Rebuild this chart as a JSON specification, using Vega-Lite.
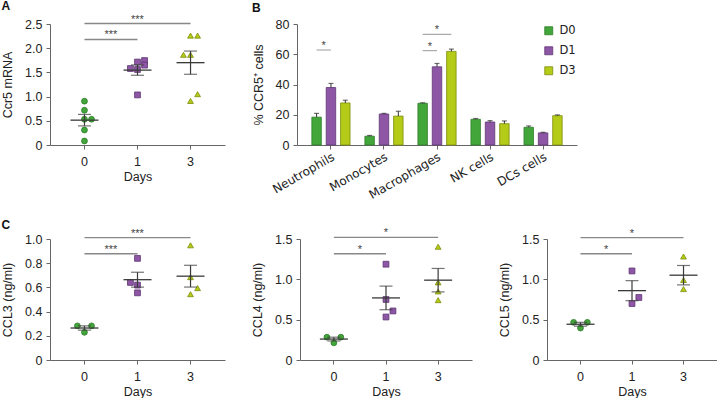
{
"$schema":"https://vega.github.io/schema/vega-lite/v6.json",
"padding":{"left":1,"top":-1,"right":0,"bottom":0},
"config":{
 "view":{"stroke":null},
 "font":"Liberation Sans",
 "axis":{"domainColor":"#666","tickColor":"#666","grid":false,"labelFont":"Liberation Sans","labelFontSize":12.5,"labelColor":"#222","titleFont":"Liberation Sans","titleFontSize":12.5,"titleFontWeight":"normal","titleColor":"#222","tickSize":4,"labelPadding":4,"labelOverlap":false},
 "axisX":{"labelAngle":0,"titlePadding":2.5,"labelPadding":6.5},
 "axisY":{"titlePadding":10},
 "title":{"anchor":"start","frame":"bounds","fontSize":12,"fontWeight":"bold","font":"Liberation Sans","color":"#111"}
},
"datasets":{
 "ptsA":[{"day":"0","col":"C","value":0.905},{"day":"0","col":"C","value":0.718},{"day":"0","col":"C","value":0.532},{"day":"0","col":"R","value":0.532},{"day":"0","col":"C","value":0.31},{"day":"0","col":"C","value":0.083},
  {"day":"1","col":"L","value":1.58},{"day":"1","col":"C","value":1.714},{"day":"1","col":"C","value":1.56},{"day":"1","col":"R","value":1.745},{"day":"1","col":"R","value":1.65},{"day":"1","col":"C","value":1.035},
  {"day":"3","col":"L","value":1.863},{"day":"3","col":"C","value":1.863},{"day":"3","col":"C","value":2.26},{"day":"3","col":"R","value":2.26},{"day":"3","col":"C","value":0.91},{"day":"3","col":"R","value":1.05}],
 "sigA":[{"from":"0","to":"1","y":2.18,"label":"***"},{"from":"0","to":"3","y":2.51,"label":"***"}],
 "ptsC3":[{"day":"0","col":"L","value":0.282},{"day":"0","col":"R","value":0.282},{"day":"0","col":"C","value":0.229},
  {"day":"1","col":"C","value":0.84},{"day":"1","col":"L","value":0.641},{"day":"1","col":"C","value":0.619},{"day":"1","col":"C","value":0.555},
  {"day":"3","col":"C","value":0.948},{"day":"3","col":"C","value":0.685},{"day":"3","col":"R","value":0.594},{"day":"3","col":"C","value":0.544}],
 "sigC3":[{"from":"0","to":"1","y":0.878,"label":"***"},{"from":"0","to":"3","y":1.011,"label":"***"}],
 "ptsC4":[{"day":"0","col":"L","value":0.283},{"day":"0","col":"R","value":0.283},{"day":"0","col":"C","value":0.2125},
  {"day":"1","col":"C","value":1.1875},{"day":"1","col":"C","value":0.75},{"day":"1","col":"R","value":0.608},{"day":"1","col":"C","value":0.533},
  {"day":"3","col":"C","value":1.404},{"day":"3","col":"C","value":0.9625},{"day":"3","col":"C","value":0.85},{"day":"3","col":"C","value":0.742}],
 "sigC4":[{"from":"0","to":"1","y":1.317,"label":"*"},{"from":"0","to":"3","y":1.52,"label":"*"}],
 "ptsC5":[{"day":"0","col":"L","value":0.467},{"day":"0","col":"R","value":0.467},{"day":"0","col":"C","value":0.396},
  {"day":"1","col":"C","value":1.104},{"day":"1","col":"R","value":0.775},{"day":"1","col":"C","value":0.7},
  {"day":"3","col":"C","value":1.283},{"day":"3","col":"C","value":0.992},{"day":"3","col":"C","value":0.879}],
 "sigC5":[{"from":"0","to":"1","y":1.317,"label":"*"},{"from":"0","to":"3","y":1.517,"label":"*"}],
 "barsB":[
  {"cell":"Neutrophils","group":"D0","value":18.4,"upper":20.9},{"cell":"Neutrophils","group":"D1","value":38.0,"upper":40.7},{"cell":"Neutrophils","group":"D3","value":27.8,"upper":29.6},
  {"cell":"Monocytes","group":"D0","value":5.8,"upper":6.3},{"cell":"Monocytes","group":"D1","value":20.5,"upper":20.9},{"cell":"Monocytes","group":"D3","value":19.1,"upper":22.3},
  {"cell":"Macrophages","group":"D0","value":27.6,"upper":27.9},{"cell":"Macrophages","group":"D1","value":51.7,"upper":53.9},{"cell":"Macrophages","group":"D3","value":61.9,"upper":63.4},
  {"cell":"NK cells","group":"D0","value":17.0,"upper":17.5},{"cell":"NK cells","group":"D1","value":15.2,"upper":16.1},{"cell":"NK cells","group":"D3","value":14.1,"upper":15.9},
  {"cell":"DCs cells","group":"D0","value":11.7,"upper":12.6},{"cell":"DCs cells","group":"D1","value":8.0,"upper":8.4},{"cell":"DCs cells","group":"D3","value":19.4,"upper":19.9}],
 "sigB":[{"cell":"Neutrophils","span":"D0-D1","y":62.8,"label":"*"},{"cell":"Macrophages","span":"D0-D1","y":62.4,"label":"*"},{"cell":"Macrophages","span":"D0-D3","y":73.2,"label":"*"}]
},
"spacing":215,
"bounds":"flush",
"resolve":{"scale":{"fill":"independent","stroke":"independent","shape":"independent","xOffset":"independent"},"legend":{"fill":"independent","stroke":"independent","shape":"independent"}},
"vconcat":[
 {"spacing":72,"bounds":"flush",
  "resolve":{"scale":{"fill":"independent","stroke":"independent","shape":"independent","xOffset":"independent"},"legend":{"fill":"independent","stroke":"independent","shape":"independent"}},
  "hconcat":[
  {"width":175,"height":121,"title":{"text":"A","offset":1},
   "layer":[
    {"data":{"name":"sigA"},"mark":{"type":"rule","color":"#888","strokeWidth":1.3},
     "encoding":{"x":{"field":"from","type":"ordinal","title":"Days","scale":{"type":"band","domain":["0","1","3"],"paddingInner":0.6,"paddingOuter":0.45}},"x2":{"field":"to"},
      "y":{"field":"y","type":"quantitative","title":"Ccr5 mRNA","scale":{"domain":[0,2.5],"nice":false},"axis":{"values":[0,0.5,1,1.5,2,2.5],"format":".1f","labelExpr":"datum.value === 0 ? '0' : datum.label"}}}},
    {"data":{"name":"sigA"},"transform":[{"filter":"datum.to === '1'"}],"mark":{"type":"text","dx":26.5,"dy":-1,"baseline":"alphabetic","fontSize":11,"color":"#444"},
     "encoding":{"x":{"field":"from","type":"ordinal","title":"Days"},"y":{"field":"y","type":"quantitative","title":"Ccr5 mRNA","axis":{"values":[0,0.5,1,1.5,2,2.5],"format":".1f","labelExpr":"datum.value === 0 ? '0' : datum.label"}},"text":{"field":"label"}}},
    {"data":{"name":"sigA"},"transform":[{"filter":"datum.to === '3'"}],"mark":{"type":"text","dx":53,"dy":-1,"baseline":"alphabetic","fontSize":11,"color":"#444"},
     "encoding":{"x":{"field":"from","type":"ordinal","title":"Days"},"y":{"field":"y","type":"quantitative","title":"Ccr5 mRNA","axis":{"values":[0,0.5,1,1.5,2,2.5],"format":".1f","labelExpr":"datum.value === 0 ? '0' : datum.label"}},"text":{"field":"label"}}},
    {"data":{"name":"ptsA"},"mark":{"type":"point","filled":true,"opacity":1,"strokeWidth":0.8,"size":34},
     "encoding":{
      "x":{"field":"day","type":"ordinal","title":"Days","scale":{"type":"band","domain":["0","1","3"],"paddingInner":0.6,"paddingOuter":0.45}},
      "xOffset":{"field":"col","type":"nominal","scale":{"type":"band","domain":["L","C","R"],"paddingInner":0,"paddingOuter":0,"range":[0,21.2]}},
      "y":{"field":"value","type":"quantitative","title":"Ccr5 mRNA","scale":{"domain":[0,2.5],"nice":false},"axis":{"values":[0,0.5,1,1.5,2,2.5],"format":".1f","labelExpr":"datum.value === 0 ? '0' : datum.label"}},
      "shape":{"field":"day","type":"nominal","scale":{"domain":["0","1","3"],"range":["circle","square","triangle-up"]},"legend":null},
      "fill":{"field":"day","type":"nominal","scale":{"domain":["0","1","3"],"range":["#43a63b","#8d57a5","#b4cb17"]},"legend":null},
      "stroke":{"field":"day","type":"nominal","scale":{"domain":["0","1","3"],"range":["#2d7b28","#5f3573","#7d8d0c"]},"legend":null}}},
    {"data":{"name":"ptsA"},"mark":{"type":"tick","size":28,"thickness":1.3,"color":"#3a3a3a"},
     "encoding":{"x":{"field":"day","type":"ordinal","title":"Days"},"y":{"aggregate":"mean","field":"value","type":"quantitative","title":"Ccr5 mRNA","axis":{"values":[0,0.5,1,1.5,2,2.5],"format":".1f","labelExpr":"datum.value === 0 ? '0' : datum.label"}}}},
    {"data":{"name":"ptsA"},"mark":{"type":"errorbar","extent":"stderr","color":"#3a3a3a","thickness":1.2,"ticks":{"size":13,"thickness":1.2,"color":"#3a3a3a"}},
     "encoding":{"x":{"field":"day","type":"ordinal","title":"Days"},"y":{"field":"value","type":"quantitative","title":"Ccr5 mRNA","axis":{"values":[0,0.5,1,1.5,2,2.5],"format":".1f","labelExpr":"datum.value === 0 ? '0' : datum.label"}}}}
   ]},
  {"width":280,"height":121,"title":{"text":"B","offset":3},
   "layer":[
    {"data":{"name":"barsB"},"mark":{"type":"bar","strokeWidth":0.8},
     "encoding":{
      "x":{"field":"cell","type":"nominal","title":null,"scale":{"type":"band","domain":["Neutrophils","Monocytes","Macrophages","NK cells","DCs cells"],"paddingInner":0.28,"paddingOuter":0.28},"axis":{"labelAngle":-30,"labelAlign":"right","labelBaseline":"top","labelFont":"DejaVu Sans","labelFontSize":12,"labelPadding":2}},
      "xOffset":{"field":"group","type":"nominal","scale":{"type":"band","domain":["D0","D1","D3"],"paddingInner":0.34,"paddingOuter":0,"range":[0,38.2]}},
      "y":{"field":"value","type":"quantitative","title":"% CCR5⁺ cells","scale":{"domain":[0,80],"nice":false},"axis":{"values":[0,20,40,60,80]}},
      "fill":{"field":"group","type":"nominal","title":null,"scale":{"domain":["D0","D1","D3"],"range":["#43a63b","#8d57a5","#b4cb17"]},
        "legend":{"orient":"top-right","offset":1,"title":null,"symbolType":"square","symbolSize":64,"symbolStrokeWidth":0.8,"labelFont":"DejaVu Sans","labelFontSize":11.5,"labelColor":"#222","rowPadding":7,"labelOffset":5}},
      "stroke":{"field":"group","type":"nominal","title":null,"scale":{"domain":["D0","D1","D3"],"range":["#2d7b28","#5f3573","#7d8d0c"]},
        "legend":{"orient":"top-right","offset":1,"title":null,"symbolType":"square","symbolSize":64,"symbolStrokeWidth":0.8,"labelFont":"DejaVu Sans","labelFontSize":11.5,"labelColor":"#222","rowPadding":7,"labelOffset":5}}}},
    {"data":{"name":"barsB"},"mark":{"type":"rule","color":"#333","strokeWidth":1},
     "encoding":{"x":{"field":"cell","type":"nominal","title":null,"scale":{"type":"band","domain":["Neutrophils","Monocytes","Macrophages","NK cells","DCs cells"],"paddingInner":0.28,"paddingOuter":0.28}},
      "xOffset":{"field":"group","type":"nominal","scale":{"type":"band","domain":["D0","D1","D3"],"paddingInner":0.34,"paddingOuter":0,"range":[0,38.2]}},
      "y":{"field":"value","type":"quantitative","title":"% CCR5⁺ cells","axis":{"values":[0,20,40,60,80]}},"y2":{"field":"upper"}}},
    {"data":{"name":"barsB"},"mark":{"type":"tick","size":5,"thickness":1.2,"color":"#333"},
     "encoding":{"x":{"field":"cell","type":"nominal","title":null,"scale":{"type":"band","domain":["Neutrophils","Monocytes","Macrophages","NK cells","DCs cells"],"paddingInner":0.28,"paddingOuter":0.28}},
      "xOffset":{"field":"group","type":"nominal","scale":{"type":"band","domain":["D0","D1","D3"],"paddingInner":0.34,"paddingOuter":0,"range":[0,38.2]}},
      "y":{"field":"upper","type":"quantitative","title":"% CCR5⁺ cells","axis":{"values":[0,20,40,60,80]}}}},
    {"data":{"name":"sigB"},"transform":[{"filter":"datum.span === 'D0-D1'"}],"mark":{"type":"tick","size":14.35,"thickness":1.2,"color":"#888","xOffset":-7.18},
     "encoding":{"x":{"field":"cell","type":"nominal","title":null},"y":{"field":"y","type":"quantitative","title":"% CCR5⁺ cells","axis":{"values":[0,20,40,60,80]}}}},
    {"data":{"name":"sigB"},"transform":[{"filter":"datum.span === 'D0-D3'"}],"mark":{"type":"tick","size":28.7,"thickness":1.2,"color":"#888"},
     "encoding":{"x":{"field":"cell","type":"nominal","title":null},"y":{"field":"y","type":"quantitative","title":"% CCR5⁺ cells","axis":{"values":[0,20,40,60,80]}}}},
    {"data":{"name":"sigB"},"transform":[{"filter":"datum.span === 'D0-D1'"}],"mark":{"type":"text","xOffset":-7.18,"dy":-1,"baseline":"alphabetic","fontSize":11,"color":"#444"},
     "encoding":{"x":{"field":"cell","type":"nominal","title":null},"y":{"field":"y","type":"quantitative","title":"% CCR5⁺ cells","axis":{"values":[0,20,40,60,80]}},"text":{"field":"label"}}},
    {"data":{"name":"sigB"},"transform":[{"filter":"datum.span === 'D0-D3'"}],"mark":{"type":"text","dy":-1,"baseline":"alphabetic","fontSize":11,"color":"#444"},
     "encoding":{"x":{"field":"cell","type":"nominal","title":null},"y":{"field":"y","type":"quantitative","title":"% CCR5⁺ cells","axis":{"values":[0,20,40,60,80]}},"text":{"field":"label"}}}
   ]}
 ]},
 {"spacing":75,"bounds":"flush",
  "resolve":{"scale":{"fill":"independent","stroke":"independent","shape":"independent","xOffset":"independent"},"legend":{"fill":"independent","stroke":"independent","shape":"independent"}},
  "hconcat":[
  {"width":175,"height":121,"title":{"text":"C","offset":-4},
   "layer":[
    {"data":{"name":"sigC3"},"mark":{"type":"rule","color":"#888","strokeWidth":1.3},
     "encoding":{"x":{"field":"from","type":"ordinal","title":"Days","scale":{"type":"band","domain":["0","1","3"],"paddingInner":0.6,"paddingOuter":0.45}},"x2":{"field":"to"},
      "y":{"field":"y","type":"quantitative","title":"CCL3 (ng/ml)","scale":{"domain":[0,1],"nice":false},"axis":{"values":[0,0.2,0.4,0.6,0.8,1],"format":".1f","labelExpr":"datum.value === 0 ? '0' : datum.label"}}}},
    {"data":{"name":"sigC3"},"transform":[{"filter":"datum.to === '1'"}],"mark":{"type":"text","dx":26.5,"dy":-1,"baseline":"alphabetic","fontSize":11,"color":"#444"},
     "encoding":{"x":{"field":"from","type":"ordinal","title":"Days"},"y":{"field":"y","type":"quantitative","title":"CCL3 (ng/ml)","axis":{"values":[0,0.2,0.4,0.6,0.8,1],"format":".1f","labelExpr":"datum.value === 0 ? '0' : datum.label"}},"text":{"field":"label"}}},
    {"data":{"name":"sigC3"},"transform":[{"filter":"datum.to === '3'"}],"mark":{"type":"text","dx":53,"dy":-1,"baseline":"alphabetic","fontSize":11,"color":"#444"},
     "encoding":{"x":{"field":"from","type":"ordinal","title":"Days"},"y":{"field":"y","type":"quantitative","title":"CCL3 (ng/ml)","axis":{"values":[0,0.2,0.4,0.6,0.8,1],"format":".1f","labelExpr":"datum.value === 0 ? '0' : datum.label"}},"text":{"field":"label"}}},
    {"data":{"name":"ptsC3"},"mark":{"type":"point","filled":true,"opacity":1,"strokeWidth":0.8,"size":34},
     "encoding":{
      "x":{"field":"day","type":"ordinal","title":"Days","scale":{"type":"band","domain":["0","1","3"],"paddingInner":0.6,"paddingOuter":0.45}},
      "xOffset":{"field":"col","type":"nominal","scale":{"type":"band","domain":["L","C","R"],"paddingInner":0,"paddingOuter":0,"range":[0,21.2]}},
      "y":{"field":"value","type":"quantitative","title":"CCL3 (ng/ml)","scale":{"domain":[0,1],"nice":false},"axis":{"values":[0,0.2,0.4,0.6,0.8,1],"format":".1f","labelExpr":"datum.value === 0 ? '0' : datum.label"}},
      "shape":{"field":"day","type":"nominal","scale":{"domain":["0","1","3"],"range":["circle","square","triangle-up"]},"legend":null},
      "fill":{"field":"day","type":"nominal","scale":{"domain":["0","1","3"],"range":["#43a63b","#8d57a5","#b4cb17"]},"legend":null},
      "stroke":{"field":"day","type":"nominal","scale":{"domain":["0","1","3"],"range":["#2d7b28","#5f3573","#7d8d0c"]},"legend":null}}},
    {"data":{"name":"ptsC3"},"mark":{"type":"tick","size":28,"thickness":1.3,"color":"#3a3a3a"},
     "encoding":{"x":{"field":"day","type":"ordinal","title":"Days"},"y":{"aggregate":"mean","field":"value","type":"quantitative","title":"CCL3 (ng/ml)","axis":{"values":[0,0.2,0.4,0.6,0.8,1],"format":".1f","labelExpr":"datum.value === 0 ? '0' : datum.label"}}}},
    {"data":{"name":"ptsC3"},"mark":{"type":"errorbar","extent":"stderr","color":"#3a3a3a","thickness":1.2,"ticks":{"size":13,"thickness":1.2,"color":"#3a3a3a"}},
     "encoding":{"x":{"field":"day","type":"ordinal","title":"Days"},"y":{"field":"value","type":"quantitative","title":"CCL3 (ng/ml)","axis":{"values":[0,0.2,0.4,0.6,0.8,1],"format":".1f","labelExpr":"datum.value === 0 ? '0' : datum.label"}}}}
   ]},
  {"width":172,"height":121,
   "layer":[
    {"data":{"name":"sigC4"},"mark":{"type":"rule","color":"#888","strokeWidth":1.3},
     "encoding":{"x":{"field":"from","type":"ordinal","title":"Days","scale":{"type":"band","domain":["0","1","3"],"paddingInner":0.6,"paddingOuter":0.45}},"x2":{"field":"to"},
      "y":{"field":"y","type":"quantitative","title":"CCL4 (ng/ml)","scale":{"domain":[0,1.5],"nice":false},"axis":{"values":[0,0.5,1,1.5],"format":".1f","labelExpr":"datum.value === 0 ? '0' : datum.label"}}}},
    {"data":{"name":"sigC4"},"transform":[{"filter":"datum.to === '1'"}],"mark":{"type":"text","dx":26.06,"dy":-1,"baseline":"alphabetic","fontSize":11,"color":"#444"},
     "encoding":{"x":{"field":"from","type":"ordinal","title":"Days"},"y":{"field":"y","type":"quantitative","title":"CCL4 (ng/ml)","axis":{"values":[0,0.5,1,1.5],"format":".1f","labelExpr":"datum.value === 0 ? '0' : datum.label"}},"text":{"field":"label"}}},
    {"data":{"name":"sigC4"},"transform":[{"filter":"datum.to === '3'"}],"mark":{"type":"text","dx":52.1,"dy":-1,"baseline":"alphabetic","fontSize":11,"color":"#444"},
     "encoding":{"x":{"field":"from","type":"ordinal","title":"Days"},"y":{"field":"y","type":"quantitative","title":"CCL4 (ng/ml)","axis":{"values":[0,0.5,1,1.5],"format":".1f","labelExpr":"datum.value === 0 ? '0' : datum.label"}},"text":{"field":"label"}}},
    {"data":{"name":"ptsC4"},"mark":{"type":"point","filled":true,"opacity":1,"strokeWidth":0.8,"size":34},
     "encoding":{
      "x":{"field":"day","type":"ordinal","title":"Days","scale":{"type":"band","domain":["0","1","3"],"paddingInner":0.6,"paddingOuter":0.45}},
      "xOffset":{"field":"col","type":"nominal","scale":{"type":"band","domain":["L","C","R"],"paddingInner":0,"paddingOuter":0,"range":[0,20.85]}},
      "y":{"field":"value","type":"quantitative","title":"CCL4 (ng/ml)","scale":{"domain":[0,1.5],"nice":false},"axis":{"values":[0,0.5,1,1.5],"format":".1f","labelExpr":"datum.value === 0 ? '0' : datum.label"}},
      "shape":{"field":"day","type":"nominal","scale":{"domain":["0","1","3"],"range":["circle","square","triangle-up"]},"legend":null},
      "fill":{"field":"day","type":"nominal","scale":{"domain":["0","1","3"],"range":["#43a63b","#8d57a5","#b4cb17"]},"legend":null},
      "stroke":{"field":"day","type":"nominal","scale":{"domain":["0","1","3"],"range":["#2d7b28","#5f3573","#7d8d0c"]},"legend":null}}},
    {"data":{"name":"ptsC4"},"mark":{"type":"tick","size":28,"thickness":1.3,"color":"#3a3a3a"},
     "encoding":{"x":{"field":"day","type":"ordinal","title":"Days"},"y":{"aggregate":"mean","field":"value","type":"quantitative","title":"CCL4 (ng/ml)","axis":{"values":[0,0.5,1,1.5],"format":".1f","labelExpr":"datum.value === 0 ? '0' : datum.label"}}}},
    {"data":{"name":"ptsC4"},"mark":{"type":"errorbar","extent":"stderr","color":"#3a3a3a","thickness":1.2,"ticks":{"size":13,"thickness":1.2,"color":"#3a3a3a"}},
     "encoding":{"x":{"field":"day","type":"ordinal","title":"Days"},"y":{"field":"value","type":"quantitative","title":"CCL4 (ng/ml)","axis":{"values":[0,0.5,1,1.5],"format":".1f","labelExpr":"datum.value === 0 ? '0' : datum.label"}}}}
   ]},
  {"width":170,"height":121,
   "layer":[
    {"data":{"name":"sigC5"},"mark":{"type":"rule","color":"#888","strokeWidth":1.3},
     "encoding":{"x":{"field":"from","type":"ordinal","title":"Days","scale":{"type":"band","domain":["0","1","3"],"paddingInner":0.6,"paddingOuter":0.45}},"x2":{"field":"to"},
      "y":{"field":"y","type":"quantitative","title":"CCL5 (ng/ml)","scale":{"domain":[0,1.5],"nice":false},"axis":{"values":[0,0.5,1,1.5],"format":".1f","labelExpr":"datum.value === 0 ? '0' : datum.label"}}}},
    {"data":{"name":"sigC5"},"transform":[{"filter":"datum.to === '1'"}],"mark":{"type":"text","dx":25.76,"dy":-1,"baseline":"alphabetic","fontSize":11,"color":"#444"},
     "encoding":{"x":{"field":"from","type":"ordinal","title":"Days"},"y":{"field":"y","type":"quantitative","title":"CCL5 (ng/ml)","axis":{"values":[0,0.5,1,1.5],"format":".1f","labelExpr":"datum.value === 0 ? '0' : datum.label"}},"text":{"field":"label"}}},
    {"data":{"name":"sigC5"},"transform":[{"filter":"datum.to === '3'"}],"mark":{"type":"text","dx":51.5,"dy":-1,"baseline":"alphabetic","fontSize":11,"color":"#444"},
     "encoding":{"x":{"field":"from","type":"ordinal","title":"Days"},"y":{"field":"y","type":"quantitative","title":"CCL5 (ng/ml)","axis":{"values":[0,0.5,1,1.5],"format":".1f","labelExpr":"datum.value === 0 ? '0' : datum.label"}},"text":{"field":"label"}}},
    {"data":{"name":"ptsC5"},"mark":{"type":"point","filled":true,"opacity":1,"strokeWidth":0.8,"size":34},
     "encoding":{
      "x":{"field":"day","type":"ordinal","title":"Days","scale":{"type":"band","domain":["0","1","3"],"paddingInner":0.6,"paddingOuter":0.45}},
      "xOffset":{"field":"col","type":"nominal","scale":{"type":"band","domain":["L","C","R"],"paddingInner":0,"paddingOuter":0,"range":[0,20.6]}},
      "y":{"field":"value","type":"quantitative","title":"CCL5 (ng/ml)","scale":{"domain":[0,1.5],"nice":false},"axis":{"values":[0,0.5,1,1.5],"format":".1f","labelExpr":"datum.value === 0 ? '0' : datum.label"}},
      "shape":{"field":"day","type":"nominal","scale":{"domain":["0","1","3"],"range":["circle","square","triangle-up"]},"legend":null},
      "fill":{"field":"day","type":"nominal","scale":{"domain":["0","1","3"],"range":["#43a63b","#8d57a5","#b4cb17"]},"legend":null},
      "stroke":{"field":"day","type":"nominal","scale":{"domain":["0","1","3"],"range":["#2d7b28","#5f3573","#7d8d0c"]},"legend":null}}},
    {"data":{"name":"ptsC5"},"mark":{"type":"tick","size":28,"thickness":1.3,"color":"#3a3a3a"},
     "encoding":{"x":{"field":"day","type":"ordinal","title":"Days"},"y":{"aggregate":"mean","field":"value","type":"quantitative","title":"CCL5 (ng/ml)","axis":{"values":[0,0.5,1,1.5],"format":".1f","labelExpr":"datum.value === 0 ? '0' : datum.label"}}}},
    {"data":{"name":"ptsC5"},"mark":{"type":"errorbar","extent":"stderr","color":"#3a3a3a","thickness":1.2,"ticks":{"size":13,"thickness":1.2,"color":"#3a3a3a"}},
     "encoding":{"x":{"field":"day","type":"ordinal","title":"Days"},"y":{"field":"value","type":"quantitative","title":"CCL5 (ng/ml)","axis":{"values":[0,0.5,1,1.5],"format":".1f","labelExpr":"datum.value === 0 ? '0' : datum.label"}}}}
   ]}
 ]}
]
}
